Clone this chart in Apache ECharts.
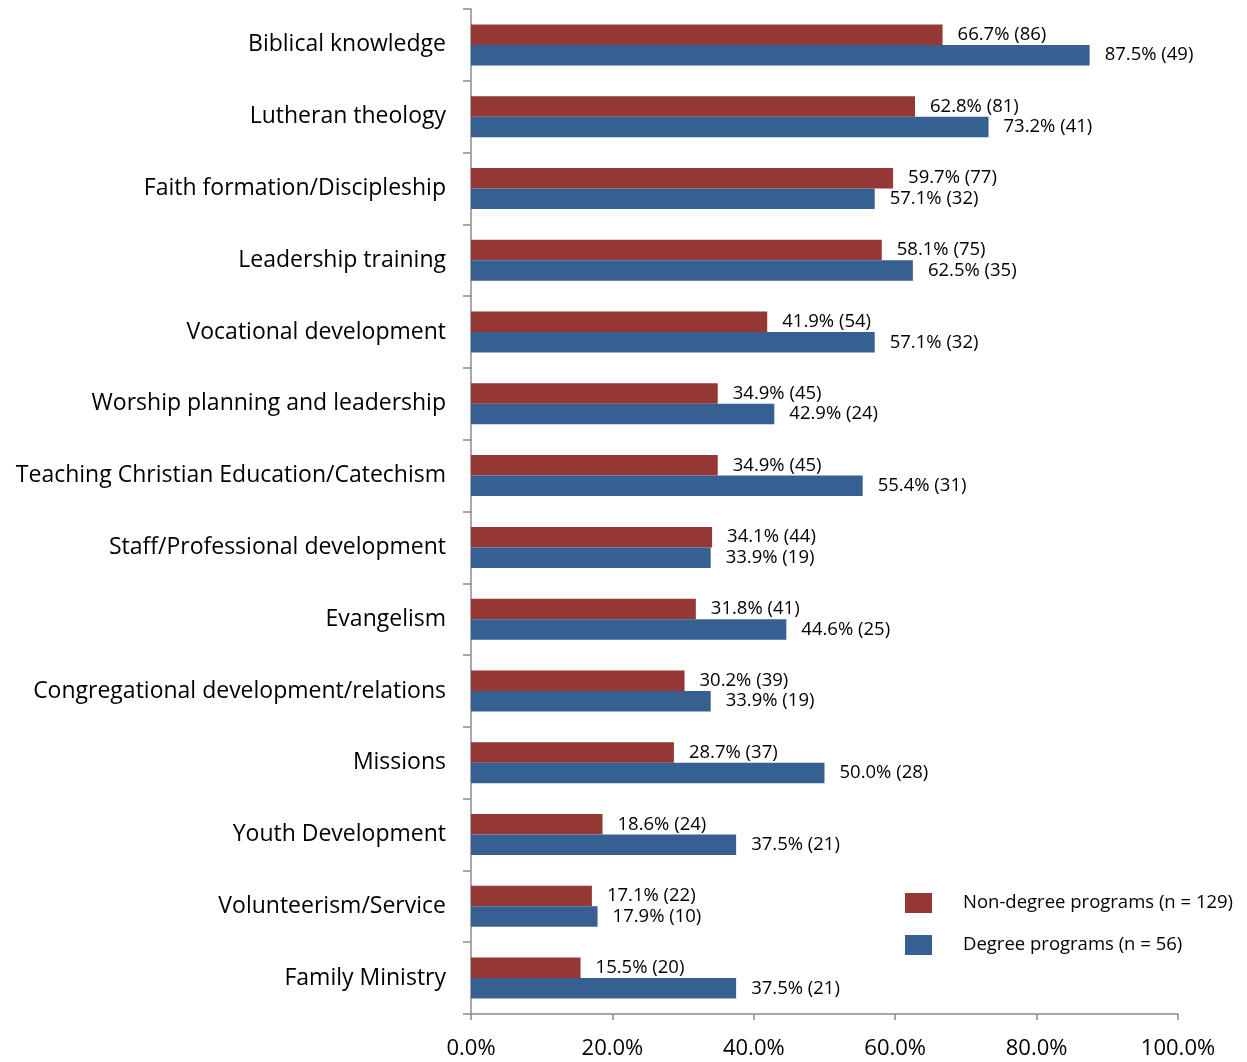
<!DOCTYPE html>
<html>
<head>
<meta charset="utf-8">
<script src="https://cdn.jsdelivr.net/npm/echarts@6/dist/echarts.min.js"></script>
<style>
  html, body { margin: 0; padding: 0; background: #fff; }
  #main { width: 1247px; height: 1062px; }
</style>
</head>
<body>
<div id="main"></div>
<script>
// categories, top to bottom
const categories = [
  'Biblical knowledge',
  'Lutheran theology',
  'Faith formation/Discipleship',
  'Leadership training',
  'Vocational development',
  'Worship planning and leadership',
  'Teaching Christian Education/Catechism',
  'Staff/Professional development',
  'Evangelism',
  'Congregational development/relations',
  'Missions',
  'Youth Development',
  'Volunteerism/Service',
  'Family Ministry'
];
// percentages
const nonDegree = [66.7, 62.8, 59.7, 58.1, 41.9, 34.9, 34.9, 34.1, 31.8, 30.2, 28.7, 18.6, 17.1, 15.5];
const degree = [87.5, 73.2, 57.1, 62.5, 57.1, 42.9, 55.4, 33.9, 44.6, 33.9, 50.0, 37.5, 17.9, 37.5];
// counts shown in brackets
const nonDegreeN = [86, 81, 77, 75, 54, 45, 45, 44, 41, 39, 37, 24, 22, 20];
const degreeN = [49, 41, 32, 35, 32, 24, 31, 19, 25, 19, 28, 21, 10, 21];
const xTicks = [0, 20, 40, 60, 80, 100];

const FONT = 'Open Sans';
const axisColor = '#8c8c8c';

const chart = echarts.init(document.getElementById('main'));

function labelFor(counts) {
  return {
    show: true,
    position: 'right',
    distance: 15,
    color: '#000',
    fontFamily: FONT,
    fontSize: 18.5,
    padding: [0, 0, 4, 0],
    formatter: (p) => p.value.toFixed(1) + '% (' + counts[p.dataIndex] + ')'
  };
}

const option = {
  animation: false,
  grid: { left: 471, right: 69, top: 9, bottom: 48, containLabel: false },
  legend: {
    orient: 'vertical',
    left: 900,
    top: 888,
    itemWidth: 27,
    itemHeight: 20,
    itemGap: 22,
    icon: 'rect',
    textStyle: { fontFamily: FONT, fontSize: 18.5, color: '#000', padding: [0, 0, 0, 26] },
    data: ['Non-degree programs (n = 129)', 'Degree programs (n = 56)']
  },
  xAxis: {
    type: 'value',
    min: xTicks[0],
    max: xTicks[xTicks.length - 1],
    interval: 20,
    axisLine: { show: true, lineStyle: { color: axisColor, width: 1.5 } },
    axisTick: { show: true, length: 6, lineStyle: { color: axisColor, width: 1.5 } },
    splitLine: { show: false },
    axisLabel: {
      margin: 24,
      fontFamily: FONT,
      fontSize: 22,
      color: '#000',
      formatter: (v) => v.toFixed(1) + '%'
    }
  },
  yAxis: {
    type: 'category',
    inverse: true,
    data: categories,
    axisLine: { show: true, lineStyle: { color: axisColor, width: 1.5 } },
    axisTick: { show: true, length: 8, lineStyle: { color: axisColor, width: 1.5 } },
    axisLabel: { margin: 25, fontFamily: FONT, fontSize: 23, color: '#000', padding: [0, 0, 6, 0] }
  },
  series: [
    {
      name: 'Non-degree programs (n = 129)',
      type: 'bar',
      data: nonDegree,
      barWidth: 20.5,
      barGap: '0%',
      itemStyle: { color: '#953735' },
      label: labelFor(nonDegreeN)
    },
    {
      name: 'Degree programs (n = 56)',
      type: 'bar',
      data: degree,
      barWidth: 20.5,
      barGap: '0%',
      itemStyle: { color: '#376092' },
      label: labelFor(degreeN)
    }
  ]
};

chart.setOption(option);
</script>
</body>
</html>
